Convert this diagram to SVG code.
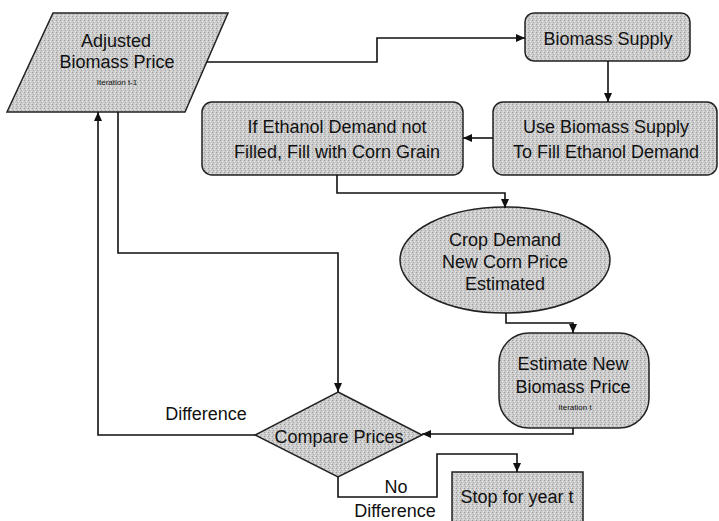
<svg xmlns="http://www.w3.org/2000/svg" width="719" height="521" viewBox="0 0 719 521">
  <defs>
    <pattern id="stip" width="4" height="4" patternUnits="userSpaceOnUse">
      <rect width="4" height="4" fill="#cbcbcb"/>
      <rect x="0" y="0" width="1" height="1" fill="#9a9a9a"/>
      <rect x="2" y="1" width="1" height="1" fill="#eeeeee"/>
      <rect x="1" y="2" width="1" height="1" fill="#a8a8a8"/>
      <rect x="3" y="3" width="1" height="1" fill="#e4e4e4"/>
    </pattern>
    <marker id="arr" markerWidth="10" markerHeight="8" refX="9" refY="4" orient="auto" markerUnits="userSpaceOnUse">
      <path d="M0,0 L9,4 L0,8 Z" fill="#111"/>
    </marker>
  </defs>
  <style>
    .shape { fill: url(#stip); stroke: #222; stroke-width: 1.5; }
    .t { font-family: "Liberation Sans", Arial, sans-serif; font-size: 18px; fill: #111; text-anchor: middle; }
    .s { font-family: "Liberation Sans", Arial, sans-serif; font-size: 8px; fill: #111; text-anchor: middle; }
    .c { fill: none; stroke: #111; stroke-width: 1.6; }
    .ca { fill: none; stroke: #111; stroke-width: 1.6; marker-end: url(#arr); }
  </style>

  <g id="adjusted">
    <polygon class="shape" points="53,13 228,13 185,112 7,112"/>
    <text class="t" x="116" y="47">Adjusted</text>
    <text class="t" x="117" y="68">Biomass Price</text>
    <text class="s" x="117" y="85">Iteration t-1</text>
  </g>

  <g id="supply">
    <rect class="shape" x="525" y="13" width="165" height="48" rx="9"/>
    <text class="t" x="608" y="45">Biomass Supply</text>
  </g>

  <g id="use">
    <rect class="shape" x="493" y="102" width="224" height="73" rx="10"/>
    <text class="t" x="606" y="133">Use Biomass Supply</text>
    <text class="t" x="606" y="158">To Fill Ethanol Demand</text>
  </g>

  <g id="fill">
    <rect class="shape" x="202" y="102" width="261" height="73" rx="10"/>
    <text class="t" x="337" y="133">If Ethanol Demand not</text>
    <text class="t" x="337" y="158">Filled, Fill with Corn Grain</text>
  </g>

  <g id="crop">
    <ellipse class="shape" cx="505" cy="260" rx="105" ry="53"/>
    <text class="t" x="505" y="246">Crop Demand</text>
    <text class="t" x="505" y="268">New Corn Price</text>
    <text class="t" x="505" y="290">Estimated</text>
  </g>

  <g id="estimate">
    <rect class="shape" x="499" y="333" width="150" height="95" rx="30" ry="30"/>
    <text class="t" x="573" y="370">Estimate New</text>
    <text class="t" x="573" y="393">Biomass  Price</text>
    <text class="s" x="575" y="410">Iteration t</text>
  </g>

  <g id="compare">
    <polygon class="shape" points="338,392 422,435 338,477 255,435"/>
    <text class="t" x="339" y="443">Compare Prices</text>
  </g>

  <g id="stop">
    <rect class="shape" x="452" y="472" width="131" height="55"/>
    <text class="t" x="517" y="503">Stop for year t</text>
  </g>

  <g id="connectors">
    <path class="ca" d="M207,62 H377 V38 H525"/>
    <path class="ca" d="M608,61 V102"/>
    <path class="ca" d="M493,138 H463"/>
    <path class="ca" d="M337,175 V193 H505 V208"/>
    <path class="ca" d="M506,313 V323 H573 V333"/>
    <path class="ca" d="M573,428 V434 H422"/>
    <path class="ca" d="M118,112 V253 H338 V392"/>
    <path class="ca" d="M255,435 H98 V112"/>
    <path class="ca" d="M338,477 V497 H437 V454 H517 V472"/>
    <text class="t" x="206" y="420">Difference</text>
    <text class="t" x="396" y="493">No</text>
    <text class="t" x="395" y="517">Difference</text>
  </g>
</svg>
